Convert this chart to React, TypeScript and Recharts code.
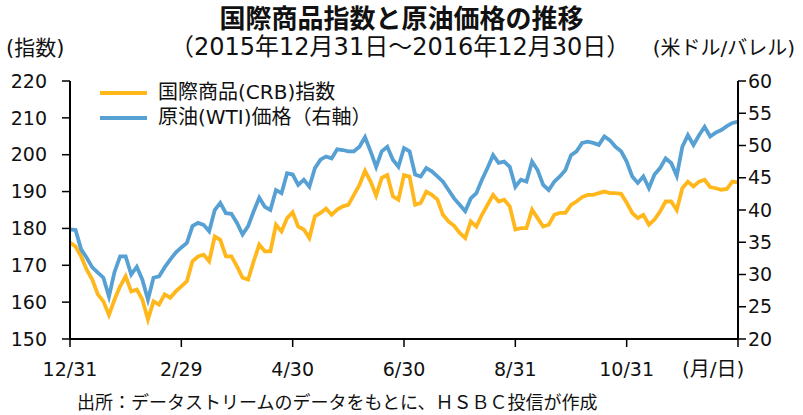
import { CartesianGrid, Line, LineChart, XAxis, YAxis } from 'recharts';

const ORANGE = '#FFB71B';
const BLUE = '#57A0D3';
const INK = '#111';

// 日付ラベル（121点のうち20点ごと）
const tickIdx = [0, 20, 40, 60, 80, 100, 120];
const tickLabels = ['12/31', '2/29', '4/30', '6/30', '8/31', '10/31', ''];

// 国際商品(CRB)指数（左軸）
const crb = [
  176.2, 175.1, 172.4, 168.8, 166.1, 162.1, 160.2, 156.5, 160.7, 164.3,
  167.0, 162.9, 163.4, 160.7, 155.3, 160.2, 159.3, 162.1, 161.2, 162.9,
  164.3, 165.7, 171.1, 172.4, 172.9, 171.1, 177.8, 176.9, 172.4, 172.4,
  169.7, 166.6, 166.1, 171.1, 175.6, 173.8, 173.8, 181.0, 179.2, 182.8,
  184.4, 180.5, 179.7, 177.4, 183.3, 184.2, 185.4, 183.7, 185.1, 186.0,
  186.4, 189.1, 191.8, 195.6, 192.7, 188.9, 193.7, 194.5, 188.7, 187.8,
  194.5, 194.1, 186.4, 186.9, 190.0, 189.1, 187.8, 183.7, 181.9, 180.7,
  178.8, 177.4, 181.9, 180.5, 183.7, 186.4, 189.1, 187.3, 187.8, 186.0,
  179.7, 180.1, 180.1, 185.1, 182.8, 180.5, 181.0, 183.7, 184.2, 184.2,
  186.4, 187.3, 188.5, 189.1, 189.1, 189.6, 190.0, 189.6, 189.6, 189.4,
  187.0, 184.2, 182.8, 183.7, 181.0, 182.4, 184.6, 187.3, 187.3, 185.0,
  190.9, 192.7, 191.4, 192.7, 193.2, 191.2, 190.9, 190.5, 190.7, 192.7,
  192.5,
];

// 原油(WTI)価格（右軸、米ドル/バレル）
const wti = [
  37.0, 36.9, 33.9, 32.6, 31.1, 30.3, 29.5, 26.6, 30.4, 32.8,
  32.8, 30.0, 31.2, 29.2, 26.1, 29.5, 29.7, 31.1, 32.3, 33.4,
  34.2, 34.9, 37.5, 38.0, 37.7, 36.7, 40.0, 41.1, 39.5, 39.4,
  38.0, 36.2, 37.5, 39.8, 41.9, 40.5, 40.0, 43.1, 42.6, 45.7,
  45.5, 43.9, 44.7, 43.6, 46.5, 47.8, 48.3, 48.0, 49.4, 49.3,
  49.1, 49.1, 49.8, 51.3, 49.1, 46.7, 49.1, 49.8, 47.8, 46.7,
  49.6, 49.1, 45.5, 45.2, 46.5, 46.0, 45.2, 44.4, 43.1, 41.8,
  40.8, 39.8, 41.8, 42.6, 44.7, 46.5, 48.5, 47.3, 47.5, 46.7,
  43.6, 44.7, 44.4, 47.5, 46.2, 43.9, 43.1, 44.4, 45.2, 46.2,
  48.5, 49.1, 50.4, 50.6, 50.4, 50.1, 51.4, 50.8, 49.8, 49.1,
  47.5, 45.2, 44.2, 45.2, 43.4, 45.5, 46.5, 48.0, 47.3, 45.3,
  49.8, 51.6, 50.1, 51.6, 52.9, 51.4, 52.0, 52.4, 53.0, 53.5,
  53.7,
];

const leftTicks = [150, 160, 170, 180, 190, 200, 210, 220];
const rightTicks = [20, 25, 30, 35, 40, 45, 50, 55, 60];

const rows = crb.map((v, i) => ({ i, crb: v, wti: wti[i] }));

const FONT = '"DejaVu Sans", "Noto Sans CJK JP", sans-serif';
const tickStyle = { fontSize: 19, fill: INK, fontFamily: FONT };

export default function App() {
  return (
    <div
      style={{
        position: 'absolute',
        left: 0,
        top: 0,
        width: 803,
        height: 415,
        background: '#fff',
        fontFamily: FONT,
        color: INK,
      }}
    >
      <LineChart
        width={803}
        height={415}
        data={rows}
        margin={{ top: 81, right: 0, bottom: 0, left: 0 }}
      >
        <CartesianGrid stroke="none" />
        <XAxis
          dataKey="i"
          type="number"
          domain={[0, 120]}
          ticks={tickIdx}
          tickFormatter={(v) => tickLabels[tickIdx.indexOf(v)] ?? ''}
          height={76}
          tick={tickStyle}
          tickSize={8}
          tickMargin={16}
          axisLine={{ stroke: '#000', strokeWidth: 2 }}
          tickLine={{ stroke: '#000', strokeWidth: 1.5 }}
          interval={0}
        />
        <YAxis
          yAxisId="L"
          domain={[150, 220]}
          ticks={leftTicks}
          width={70}
          tick={tickStyle}
          tickSize={8}
          tickMargin={15}
          axisLine={{ stroke: '#000', strokeWidth: 2 }}
          tickLine={{ stroke: '#000', strokeWidth: 1.5 }}
          interval={0}
        />
        <YAxis
          yAxisId="R"
          orientation="right"
          domain={[20, 60]}
          ticks={rightTicks}
          width={65}
          tick={tickStyle}
          tickSize={8}
          tickMargin={2}
          axisLine={{ stroke: '#000', strokeWidth: 2 }}
          tickLine={{ stroke: '#000', strokeWidth: 1.5 }}
          interval={0}
        />
        <Line
          yAxisId="L"
          dataKey="crb"
          stroke={ORANGE}
          strokeWidth={3.8}
          dot={false}
          type="linear"
          isAnimationActive={false}
        />
        <Line
          yAxisId="R"
          dataKey="wti"
          stroke={BLUE}
          strokeWidth={3.8}
          dot={false}
          type="linear"
          isAnimationActive={false}
        />
      </LineChart>

      <div
        style={{
          position: 'absolute',
          top: 2,
          left: 0,
          width: 803,
          textAlign: 'center',
          fontSize: 26,
          fontWeight: 'bold',
          lineHeight: '34px',
        }}
      >
        国際商品指数と原油価格の推移
      </div>
      <div
        style={{
          position: 'absolute',
          top: 32,
          left: 170,
          fontSize: 24,
          lineHeight: '30px',
          whiteSpace: 'nowrap',
        }}
      >
        （2015年12月31日～2016年12月30日）
      </div>
      <div style={{ position: 'absolute', top: 34, left: 6, fontSize: 21, lineHeight: '28px' }}>
        (指数)
      </div>
      <div
        style={{
          position: 'absolute',
          top: 34,
          right: 8,
          fontSize: 20,
          lineHeight: '28px',
          whiteSpace: 'nowrap',
        }}
      >
        (米ドル/バレル)
      </div>

      {/* 凡例 */}
      <div style={{ position: 'absolute', top: 80, left: 100, fontSize: 20, lineHeight: '25px' }}>
        <div style={{ display: 'flex', alignItems: 'center', gap: 11 }}>
          <span style={{ width: 47, height: 4, background: ORANGE, display: 'inline-block' }} />
          <span>国際商品(CRB)指数</span>
        </div>
        <div style={{ display: 'flex', alignItems: 'center', gap: 11 }}>
          <span style={{ width: 47, height: 4, background: BLUE, display: 'inline-block' }} />
          <span>原油(WTI)価格（右軸）</span>
        </div>
      </div>

      <div style={{ position: 'absolute', top: 355, left: 682, fontSize: 20, lineHeight: '28px' }}>
        (月/日)
      </div>
      <div
        style={{
          position: 'absolute',
          top: 391,
          left: 77,
          fontSize: 18,
          lineHeight: '24px',
          whiteSpace: 'nowrap',
        }}
      >
        出所：データストリームのデータをもとに、ＨＳＢＣ投信が作成
      </div>
    </div>
  );
}
